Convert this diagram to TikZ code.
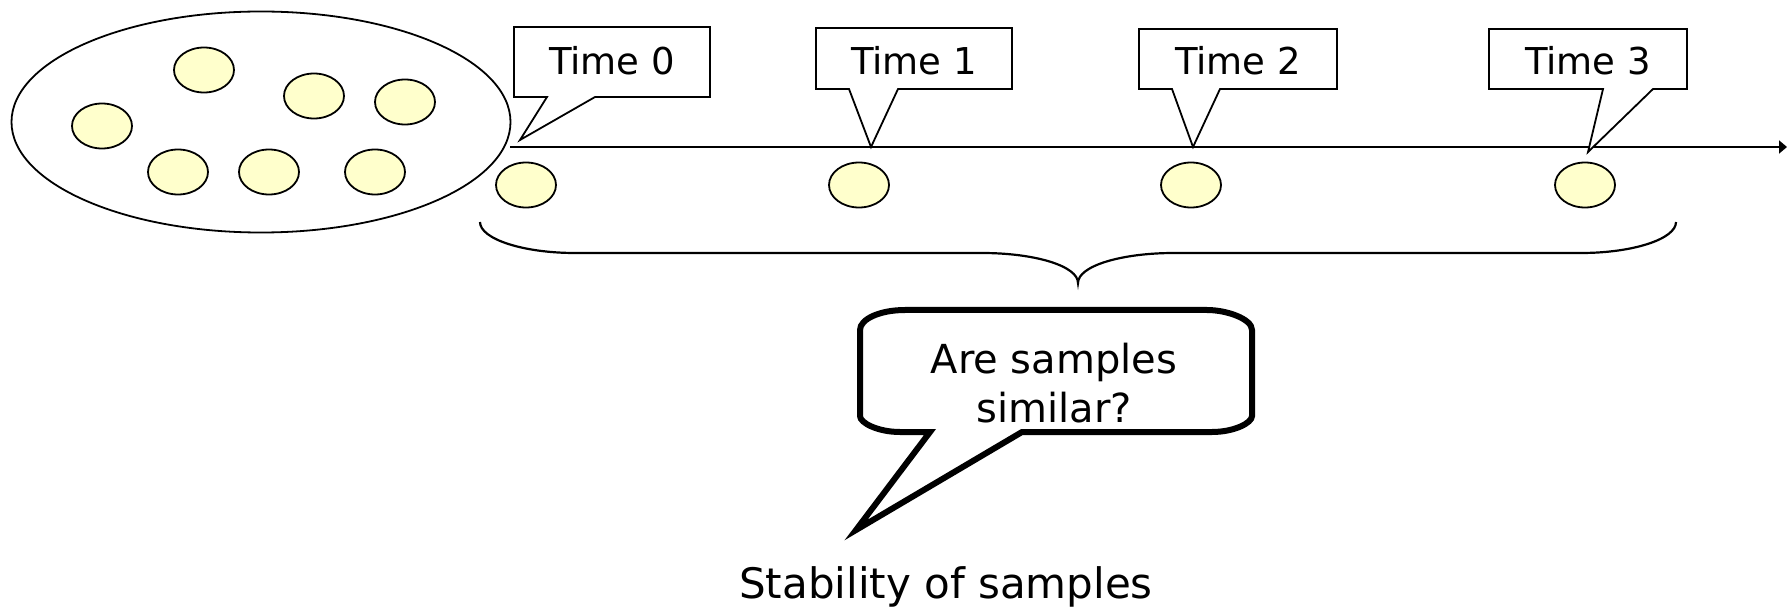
\documentclass[tikz,border=0pt]{standalone}
\usepackage{fontspec}
\setmainfont{DejaVu Sans}
\usetikzlibrary{arrows.meta,shapes.geometric}
\definecolor{sample}{RGB}{255,255,204}
\tikzset{
  thin line/.style={line width=1.8pt},
  sampledot/.style={ellipse, draw, thin line, fill=sample, minimum width=60pt, minimum height=45pt, inner sep=0pt},
  timetext/.style={anchor=base, inner sep=0pt, font=\fontsize{37}{44}\selectfont},
  calloutbox/.style={draw, thin line, fill=white, line join=miter},
  bubbletext/.style={anchor=base, inner sep=0pt, font=\fontsize{40}{49}\selectfont},
}
\begin{document}
\begin{tikzpicture}[x=1pt, y=-1pt]
\useasboundingbox (0,0) rectangle (1787,609);

% whole population
\node[ellipse, draw, thin line, minimum width=499pt, minimum height=221pt, inner sep=0pt] (pop) at (261,122) {};
\node[sampledot] (p1) at (204,70) {};
\node[sampledot] (p2) at (314,96) {};
\node[sampledot] (p3) at (405,102) {};
\node[sampledot] (p4) at (102,126) {};
\node[sampledot] (p5) at (178,172) {};
\node[sampledot] (p6) at (269,172) {};
\node[sampledot] (p7) at (375,172) {};

% time axis
\coordinate (axisstart) at (510,147);
\coordinate (axisend) at (1787,147);
\draw[thin line, -{Triangle[length=8pt,width=13pt]}] (axisstart) -- (axisend);

% samples drawn at each time
\node[sampledot] (s0) at (526,185) {};
\node[sampledot] (s1) at (859,185) {};
\node[sampledot] (s2) at (1191,185) {};
\node[sampledot] (s3) at (1585,185) {};

% time callouts
\draw[calloutbox] (514,27) -- (710,27) -- (710,97) -- (595,97) -- (520,140) -- (547,97) -- (514,97) -- cycle;
\node[timetext] (t0) at (612,75) {Time 0};
\draw[calloutbox] (816,28) -- (1012,28) -- (1012,89) -- (898,89) -- (871,147) -- (849,89) -- (816,89) -- cycle;
\node[timetext] (t1) at (914,75) {Time 1};
\draw[calloutbox] (1139,29) -- (1337,29) -- (1337,89) -- (1220,89) -- (1193,147) -- (1172,89) -- (1139,89) -- cycle;
\node[timetext] (t2) at (1238,75) {Time 2};
\draw[calloutbox] (1489,29) -- (1687,29) -- (1687,89) -- (1653,89) -- (1588,152) -- (1603,89) -- (1489,89) -- cycle;
\node[timetext] (t3) at (1588,75) {Time 3};

% brace grouping the samples
\draw[line width=2.2pt]
  (480,222) .. controls (480,239) and (523,253) .. (575,253)
  -- (982,253) .. controls (1035,253) and (1078,266) .. (1078,283)
  .. controls (1078,266) and (1121,253) .. (1174,253)
  -- (1581,253) .. controls (1633,253) and (1676,239) .. (1676,222);

% question bubble
\draw[line width=6pt, line join=miter, fill=white]
  (1022,432) -- (1212,432) .. controls (1234,432) and (1252,423) .. (1252,416)
  -- (1252,330) .. controls (1252,319) and (1227,310) .. (1207,310)
  -- (905,310) .. controls (880,310) and (860,319) .. (860,330)
  -- (860,416) .. controls (860,423) and (878,432) .. (900,432)
  -- (930,432) -- (856,530) -- cycle;
\node[bubbletext] (q1) at (1054,373) {Are samples};
\node[bubbletext] (q2) at (1054,422) {similar?};

% caption
\node[anchor=base, inner sep=0pt, font=\fontsize{42}{50}\selectfont] (cap) at (946,598) {Stability of samples};
\end{tikzpicture}
\end{document}
